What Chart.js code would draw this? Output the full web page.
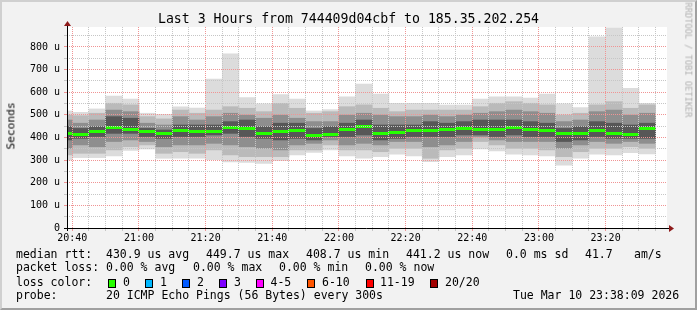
<!DOCTYPE html>
<html>
<head>
<meta charset="utf-8">
<script src="https://cdn.jsdelivr.net/npm/chart.js@4.4.1/dist/chart.umd.min.js"></script>
<style>
  html, body { margin: 0; padding: 0; background: #f2f2f2; }
  #wrap { position: relative; width: 697px; height: 310px; background: #f2f2f2; overflow: hidden;
          font-family: "DejaVu Sans Mono", monospace; color: #000; }
  #wrap canvas { position: absolute; left: 0; top: 0; }
  #frame { position: absolute; left: 0; top: 0; width: 697px; height: 310px; box-sizing: border-box; pointer-events: none;
           border-top: 2px solid #d0d0d0; border-left: 2px solid #d0d0d0; border-right: 2px solid #a0a0a0; border-bottom: 2px solid #a0a0a0; }
  .t { position: absolute; white-space: pre; line-height: 1; transform: translateY(-50%); color: #000; }
  .lg { font-size: 11.5px; }
  .box { position: absolute; width: 8px; height: 9px; box-sizing: border-box; border: 1px solid #000; top: 279px; }
</style>
</head>
<body>
<div id="wrap">
  <canvas id="c" width="697" height="310"></canvas>
  <div class="t" style="left:0;width:697px;text-align:center;top:19px;font-size:13.2px">Last 3 Hours from 744409d04cbf to 185.35.202.254</div>
  <div style="position:absolute;left:11px;top:126px;font-size:11.2px;line-height:1;white-space:pre;color:#000;transform:translate(-50%,-50%) rotate(-90deg)">Seconds</div>
  <div style="position:absolute;left:688px;top:60px;font-size:8.7px;line-height:1;white-space:pre;color:#b0b0b0;transform:translate(-50%,-50%) rotate(90deg)">RRDTOOL / TOBI OETIKER</div>

  <!-- legend rows -->
  <div class="t lg" style="left:16px;top:254.5px">median rtt:</div>
  <div class="t lg" style="left:106px;top:254.5px">430.9 us avg</div>
  <div class="t lg" style="left:206px;top:254.5px">449.7 us max</div>
  <div class="t lg" style="left:306px;top:254.5px">408.7 us min</div>
  <div class="t lg" style="left:406px;top:254.5px">441.2 us now</div>
  <div class="t lg" style="left:506px;top:254.5px">0.0 ms sd</div>
  <div class="t lg" style="left:585px;top:254.5px">41.7</div>
  <div class="t lg" style="left:634px;top:254.5px">am/s</div>

  <div class="t lg" style="left:16px;top:268.2px">packet loss:</div>
  <div class="t lg" style="left:106px;top:268.2px">0.00 % avg</div>
  <div class="t lg" style="left:193px;top:268.2px">0.00 % max</div>
  <div class="t lg" style="left:279px;top:268.2px">0.00 % min</div>
  <div class="t lg" style="left:365px;top:268.2px">0.00 % now</div>

  <div class="t lg" style="left:16px;top:282.5px">loss color:</div>
  <div class="box" style="left:108px;background:#26ff00"></div><div class="t lg" style="left:123px;top:282.5px">0</div>
  <div class="box" style="left:145px;background:#00b8ff"></div><div class="t lg" style="left:160px;top:282.5px">1</div>
  <div class="box" style="left:182px;background:#0059ff"></div><div class="t lg" style="left:197px;top:282.5px">2</div>
  <div class="box" style="left:219px;background:#7e00ff"></div><div class="t lg" style="left:234px;top:282.5px">3</div>
  <div class="box" style="left:256px;background:#ff00ff"></div><div class="t lg" style="left:270.5px;top:282.5px">4-5</div>
  <div class="box" style="left:307px;background:#ff5500"></div><div class="t lg" style="left:322px;top:282.5px">6-10</div>
  <div class="box" style="left:366px;background:#ff0000"></div><div class="t lg" style="left:380px;top:282.5px">11-19</div>
  <div class="box" style="left:430px;background:#a10000"></div><div class="t lg" style="left:445px;top:282.5px">20/20</div>

  <div class="t lg" style="left:16px;top:296px">probe:</div>
  <div class="t lg" style="left:106px;top:296px">20 ICMP Echo Pings (56 Bytes) every 300s</div>
  <div class="t lg" style="left:513px;top:296px">Tue Mar 10 23:38:09 2026</div>
  <div id="frame"></div>
</div>
<script>
// 5分ごとのビン（開始時刻）と各ビンの RTT 分布（単位 us）
const binStart = ["20:35","20:40","20:45","20:50","20:55","21:00","21:05","21:10","21:15","21:20","21:25","21:30",
                  "21:35","21:40","21:45","21:50","21:55","22:00","22:05","22:10","22:15","22:20","22:25","22:30",
                  "22:35","22:40","22:45","22:50","22:55","23:00","23:05","23:10","23:15","23:20","23:25","23:30"];
const maxRtt = [517,511,526,583,570,507,502,535,530,658,769,576,549,589,570,517,523,580,636,592,551,551,551,543,
                543,570,579,579,574,592,549,532,845,884,617,551];
const hi90   = [499,496,507,551,544,492,482,521,507,521,536,529,514,551,529,507,514,536,544,529,514,521,521,521,
                521,536,551,558,551,544,499,507,544,558,529,544];
const hi75   = [477,463,477,521,514,463,455,492,477,492,507,499,485,499,485,470,470,499,507,499,492,492,499,492,
                499,507,514,521,514,507,470,477,514,521,499,507];
const hi60   = [448,440,448,492,485,440,433,455,455,455,470,477,448,463,463,440,448,463,477,455,455,455,470,463,
                470,477,477,477,470,463,440,448,470,463,455,463];
const medianRtt = [420,417,427,446,439,427,418,434,430,430,446,443,421,430,434,409,417,439,449,421,423,434,434,437,
                   442,439,439,448,439,434,418,418,434,421,417,441];
const lo40   = [389,396,404,418,418,404,396,404,404,411,418,404,396,389,396,389,404,404,411,389,396,404,404,404,
                411,411,404,411,404,404,382,389,404,396,396,396];
const lo25   = [352,367,359,382,389,382,359,367,367,374,367,359,352,345,367,374,389,367,374,367,382,382,359,367,
                382,404,389,382,382,382,352,367,382,374,382,374];
const lo10   = [323,330,330,345,359,367,330,337,330,345,323,315,315,315,345,345,367,345,345,337,352,352,308,345,
                352,382,367,352,352,345,315,337,352,352,359,352];
const minRtt = [300,311,311,318,343,349,308,308,308,302,292,290,285,298,323,334,345,318,308,315,326,318,293,315,
                323,349,340,326,323,318,278,308,326,323,333,327];

const xRange = ["20:38:25", "23:38:25"];
const xTickLabels = ["20:40","21:00","21:20","21:40","22:00","22:20","22:40","23:00","23:20"];
const yTickValues = [0, 100, 200, 300, 400, 500, 600, 700, 800];
const yTickLabels = ["0", "100 u", "200 u", "300 u", "400 u", "500 u", "600 u", "700 u", "800 u"];
const yMax = 888;

const toMin = (s) => { const p = s.split(":").map(Number); return p[0] * 60 + p[1] + (p[2] || 0) / 60; };
const centers = binStart.map(s => toMin(s) + 2.5);
const band = (lo, hi) => centers.map((x, i) => ({ x, y: [lo[i], hi[i]] }));

const xMajor = {};
xTickLabels.forEach(l => { xMajor[toMin(l)] = l; });

const GRID = "#c6c6c6", GRID_MAJOR = "#f09494", ARROW = "#8e1b1b";
const FONT = { family: "DejaVu Sans Mono", size: 10 };

const bandOpts = { grouped: false, barPercentage: 1, categoryPercentage: 1, borderWidth: 0, clip: 0 };

// 中央値（緑）・背景・軸の矢印
const rrdLook = {
  id: "rrdLook",
  beforeDraw(chart) {
    const { ctx, chartArea: a } = chart;
    ctx.save();
    ctx.fillStyle = "#ffffff";
    ctx.fillRect(a.left, a.top, a.right - a.left, a.bottom - a.top);
    ctx.restore();
  },
  afterDatasetsDraw(chart) {
    const { ctx, chartArea: a, scales: { x, y } } = chart;
    ctx.save();
    ctx.beginPath(); ctx.rect(a.left, a.top, a.right - a.left, a.bottom - a.top); ctx.clip();
    ctx.fillStyle = "#26ff00";
    medianRtt.forEach((v, i) => {
      const x0 = x.getPixelForValue(centers[i] - 2.5), x1 = x.getPixelForValue(centers[i] + 2.5);
      const py = Math.round(y.getPixelForValue(v));
      ctx.fillRect(x0, py - 1, x1 - x0, 3);
    });
    ctx.restore();
  },
  afterDraw(chart) {
    const { ctx, chartArea: a } = chart;
    ctx.save();
    ctx.strokeStyle = "#000"; ctx.lineWidth = 1;
    ctx.beginPath();
    ctx.moveTo(a.left - 3, a.bottom + 0.5); ctx.lineTo(a.right + 2, a.bottom + 0.5);
    ctx.moveTo(a.left + 0.5, a.bottom + 3); ctx.lineTo(a.left + 0.5, a.top - 2);
    ctx.stroke();
    ctx.fillStyle = ARROW;
    ctx.beginPath();
    ctx.moveTo(a.left + 0.5, a.top - 6); ctx.lineTo(a.left - 3, a.top - 1); ctx.lineTo(a.left + 4, a.top - 1);
    ctx.closePath(); ctx.fill();
    ctx.beginPath();
    ctx.moveTo(a.right + 7, a.bottom + 0.5); ctx.lineTo(a.right + 2, a.bottom - 3); ctx.lineTo(a.right + 2, a.bottom + 4);
    ctx.closePath(); ctx.fill();
    ctx.restore();
  }
};

new Chart(document.getElementById("c"), {
  type: "bar",
  data: {
    datasets: [
      { label: "p40-p60", data: band(lo40, hi60), backgroundColor: "#575757", ...bandOpts },
      { label: "p25-p75", data: band(lo25, hi75), backgroundColor: "#8e8e8e", ...bandOpts },
      { label: "p10-p90", data: band(lo10, hi90), backgroundColor: "#bababa", ...bandOpts },
      { label: "min-max", data: band(minRtt, maxRtt), backgroundColor: "#dcdcdc", ...bandOpts }
    ]
  },
  options: {
    responsive: false,
    animation: false,
    devicePixelRatio: 1,
    layout: { padding: { top: 27, right: 30, bottom: 0, left: 0 } },
    plugins: { legend: { display: false }, tooltip: { enabled: false } },
    scales: {
      x: {
        type: "linear",
        min: toMin(xRange[0]), max: toMin(xRange[1]),
        offset: false,
        afterBuildTicks: (s) => {
          const t = [];
          for (let m = toMin(xTickLabels[0]); m < s.max - 1; m += 5) t.push({ value: m });
          s.ticks = t;
        },
        afterFit: (s) => { s.height = 82; },
        ticks: {
          autoSkip: false, maxRotation: 0, minRotation: 0, padding: 1, color: "#000", font: FONT,
          callback: (v) => xMajor[v] || ""
        },
        grid: {
          offset: false, z: 1, tickLength: 3,
          color: (c) => (c.tick && xMajor[c.tick.value]) ? GRID_MAJOR : GRID
        },
        border: { display: false, dash: [1, 1] }
      },
      y: {
        min: 0, max: yMax,
        afterBuildTicks: (s) => {
          const t = [];
          for (let v = 0; v < yMax - 20; v += 50) t.push({ value: v });
          s.ticks = t;
        },
        afterFit: (s) => { s.width = 67; },
        ticks: {
          autoSkip: false, padding: 4, color: "#000", font: FONT,
          callback: (v) => { const i = yTickValues.indexOf(v); return i >= 0 ? yTickLabels[i] : ""; }
        },
        grid: {
          z: 1, tickLength: 3,
          color: (c) => (c.tick && yTickValues.includes(c.tick.value)) ? GRID_MAJOR : GRID
        },
        border: { display: false, dash: [1, 1] }
      }
    }
  },
  plugins: [rrdLook]
});
</script>
</body>
</html>
